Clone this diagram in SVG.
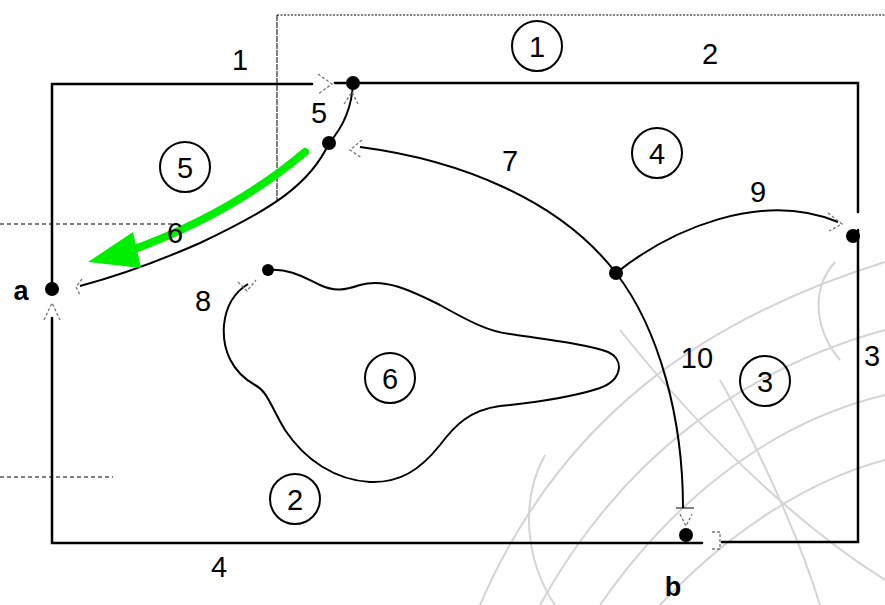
<svg xmlns="http://www.w3.org/2000/svg" width="885" height="605" viewBox="0 0 885 605">
<style>
.bg{fill:none;stroke:#d4d4d4;stroke-width:2}
.edge{fill:none;stroke:#000;stroke-width:2.5;stroke-linecap:round}
.curve{fill:none;stroke:#000;stroke-width:2}
.dot{fill:#000}
.tip{fill:none;stroke:#777;stroke-width:1.3;stroke-dasharray:3 2}
.aux{fill:none;stroke:#000;stroke-width:1}
.lbl{font-family:"Liberation Sans",Arial,sans-serif;font-size:29px;fill:#000;text-anchor:middle}
.big{font-family:"Liberation Sans",Arial,sans-serif;font-size:27px;font-weight:bold;fill:#000;text-anchor:middle}
.ring{fill:none;stroke:#000;stroke-width:2}
</style>
<rect width="885" height="605" fill="#fff"/>
<g id="background">
<path class="bg" d="M480,605 C560,420 700,320 885,262"/>
<path class="bg" d="M540,605 C620,460 740,370 885,330"/>
<path class="bg" d="M600,605 C680,490 780,420 885,395"/>
<path class="bg" d="M660,605 C730,530 810,480 885,460"/>
<path class="bg" d="M620,330 C700,430 790,520 885,580"/>
<path class="bg" d="M545,455 C520,500 525,560 555,605"/>
<path class="bg" d="M835,262 C810,290 815,330 840,360"/>
<path class="bg" d="M720,380 C760,450 800,540 820,605"/>
</g>
<g id="guides">
<path class="aux" d="M277,15 H885" stroke-dasharray="2 1.5"/>
<path class="aux" d="M277,15 V202" stroke-width="2" stroke-dasharray="6 1"/>
<path class="aux" d="M0,224 H172" stroke-dasharray="4 3"/>
<path class="aux" d="M0,477 H113" stroke-dasharray="4 3"/>
</g>
<g id="connectors">
<path class="edge" d="M52,318 V543 H702"/>
<path class="edge" d="M722,542 H858 V230"/>
<path class="edge" d="M858,212 V83 H335"/>
<path class="edge" d="M312,84 H52 V289"/>
<path class="curve" d="M353,83 C352,105 345,125 329,143"/>
<path class="curve" d="M329,143 C310,185 270,210 200,243 C150,265 110,278 80,286"/>
<path class="curve" d="M360,147 C460,160 560,200 616,273 C660,330 683,420 683,508"/>
<path class="curve" d="M616,273 C670,230 760,190 838,222"/>
<path class="curve" d="M268,270 C290,268 305,278 320,285 C335,292 345,290 360,285 C385,278 410,290 440,305 C470,322 490,332 510,334 C550,340 590,345 608,352 C625,360 622,380 600,388 C570,398 530,403 500,406 C470,410 455,425 440,445 C420,470 400,483 370,482 C335,480 305,460 285,430 C270,405 268,392 255,385 C232,372 222,350 224,325 C226,305 235,292 248,284"/>
<path class="tip" d="M318,74 L332,84 L318,94"/>
<path class="tip" d="M344,104 L352,92 L358,104"/>
<path class="tip" d="M362,140 L350,150 L362,158"/>
<path class="tip" d="M82,279 L76,287 L80,295"/>
<path class="tip" d="M44,320 L52,303 L60,320"/>
<path class="tip" d="M238,282 L247,291 L256,280"/>
<path class="tip" d="M828,213 L842,224 L829,231"/>
<path class="tip" d="M680,514 L686,526 L692,514"/>
<path class="tip" d="M712,532 L720,532 L720,549 L712,549"/>
<path class="aux" d="M676,508 H694" stroke-width="1.5"/>
<path d="M305,152 C260,190 200,225 132,250" fill="none" stroke="#00ee00" stroke-width="8" stroke-linecap="round"/>
<polygon points="88,262 133,232 141,268" fill="#00ee00"/>
</g>
<g id="node-a"><circle class="dot" cx="52" cy="289" r="7"/><text class="big" x="21" y="300">a</text></g>
<g id="node-b"><circle class="dot" cx="686" cy="535" r="7"/><text class="big" x="673" y="596">b</text></g>
<g id="node-top"><circle class="dot" cx="353" cy="83" r="7"/></g>
<g id="node-p"><circle class="dot" cx="329" cy="143" r="7"/></g>
<g id="node-q"><circle class="dot" cx="268" cy="270" r="6"/></g>
<g id="node-r"><circle class="dot" cx="616" cy="273" r="7"/></g>
<g id="node-s"><circle class="dot" cx="853" cy="236" r="7"/></g>
<g id="edge-labels">
<text class="lbl" x="240" y="70">1</text>
<text class="lbl" x="710" y="64">2</text>
<text class="lbl" x="872" y="366">3</text>
<text class="lbl" x="219" y="577">4</text>
<text class="lbl" x="319" y="123">5</text>
<text class="lbl" x="175" y="243">6</text>
<text class="lbl" x="510" y="171">7</text>
<text class="lbl" x="203" y="311">8</text>
<text class="lbl" x="758" y="202">9</text>
<text class="lbl" x="697" y="368">10</text>
</g>
<g id="region-1"><circle class="ring" cx="537" cy="46" r="25"/><text class="lbl" x="537" y="57">1</text></g>
<g id="region-2"><circle class="ring" cx="295" cy="499" r="25"/><text class="lbl" x="295" y="510">2</text></g>
<g id="region-3"><circle class="ring" cx="765" cy="381" r="25"/><text class="lbl" x="765" y="392">3</text></g>
<g id="region-4"><circle class="ring" cx="657" cy="153" r="25"/><text class="lbl" x="657" y="164">4</text></g>
<g id="region-5"><circle class="ring" cx="185" cy="167" r="25"/><text class="lbl" x="185" y="178">5</text></g>
<g id="region-6"><circle class="ring" cx="390" cy="378" r="25"/><text class="lbl" x="390" y="389">6</text></g>
</svg>
